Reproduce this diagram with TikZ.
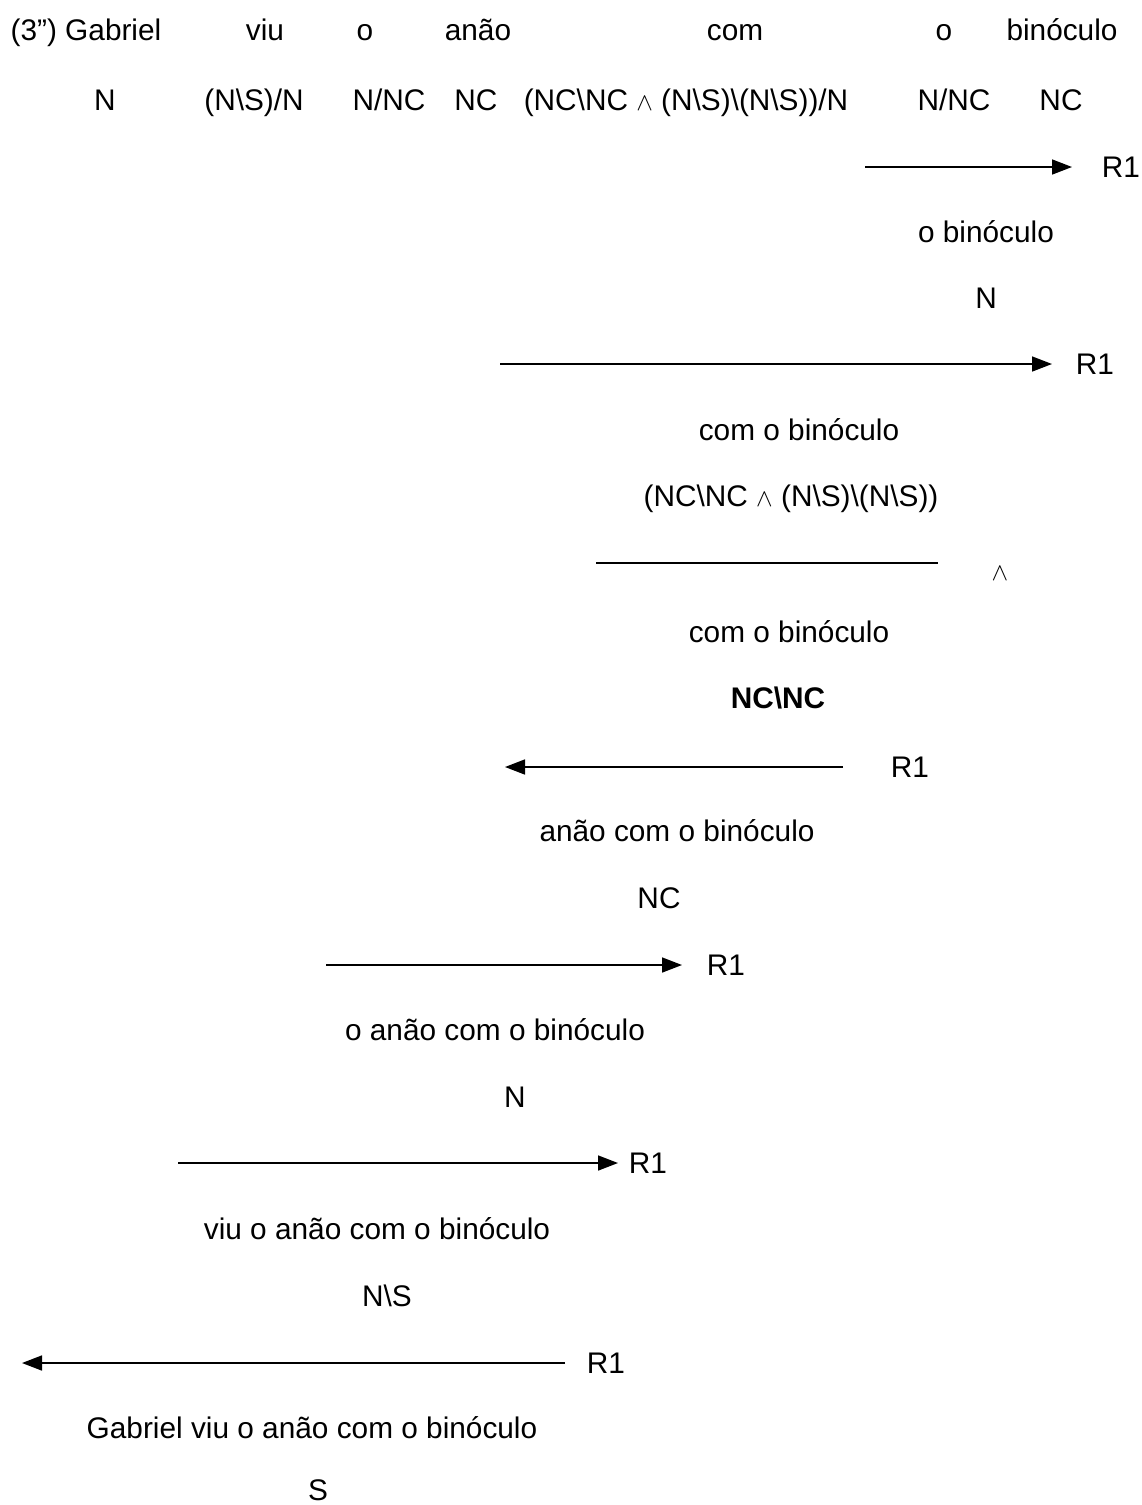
\documentclass[tikz,border=0pt]{standalone}
\usepackage{fontspec}
\setmainfont{Liberation Sans}
\usetikzlibrary{arrows.meta}
\newcommand\wsym{{\fontsize{24}{24}\selectfont$\wedge$}}
\begin{document}
\begin{tikzpicture}[x=1pt,y=-1pt,
  txt/.style={anchor=base,inner sep=0pt,font=\fontsize{29.8}{34}\selectfont},
  rule/.style={line width=1.6pt},
  rarrow/.style={rule,-{Triangle[length=20pt,width=15pt]}},
  rlabel/.style={txt}]
\useasboundingbox (0,0) rectangle (1142,1505);
% sentence and lexical categories
\node[txt] (w1) at (86,40) {(3'') Gabriel};
\node[txt] (w2) at (265,40) {viu};
\node[txt] (w3) at (365,40) {o};
\node[txt] (w4) at (478,40) {anão};
\node[txt] (w5) at (735,40) {com};
\node[txt] (w6) at (944,40) {o};
\node[txt] (w7) at (1062,40) {binóculo};
\node[txt] (c1) at (105,110) {N};
\node[txt] (c2) at (254,110) {(N\textbackslash S)/N};
\node[txt] (c3) at (389,110) {N/NC};
\node[txt] (c4) at (476,110) {NC};
\node[txt] (c5) at (686,110) {(NC\textbackslash NC \wsym{} (N\textbackslash S)\textbackslash(N\textbackslash S))/N};
\node[txt] (c6) at (954,110) {N/NC};
\node[txt] (c7) at (1061,110) {NC};
% step 1
\coordinate (a1s) at (865,167); \coordinate (a1e) at (1072,167);
\draw[rarrow] (a1s) -- (a1e);
\node[rlabel] (r1) at (1121,177) {R1};
\node[txt] (p1) at (986,242) {o binóculo};
\node[txt] (k1) at (986,308) {N};
% step 2
\coordinate (a2s) at (500,364); \coordinate (a2e) at (1052,364);
\draw[rarrow] (a2s) -- (a2e);
\node[rlabel] (r2) at (1095,374) {R1};
\node[txt] (p2) at (799,440) {com o binóculo};
\node[txt] (k2) at (791,506) {(NC\textbackslash NC \wsym{} (N\textbackslash S)\textbackslash(N\textbackslash S))};
% step 3: conjunction elimination
\coordinate (a3s) at (596,563); \coordinate (a3e) at (938,563);
\draw[rule] (a3s) -- (a3e);
\node[txt] (r3) at (1000,580) {\wsym};
\node[txt] (p3) at (789,642) {com o binóculo};
\node[txt,font=\fontsize{29.8}{34}\selectfont\bfseries] (k3) at (778,708) {NC\textbackslash NC};
% step 4
\coordinate (a4s) at (843,767); \coordinate (a4e) at (505,767);
\draw[rarrow] (a4s) -- (a4e);
\node[rlabel] (r4) at (910,777) {R1};
\node[txt] (p4) at (677,841) {anão com o binóculo};
\node[txt] (k4) at (659,908) {NC};
% step 5
\coordinate (a5s) at (326,965); \coordinate (a5e) at (682,965);
\draw[rarrow] (a5s) -- (a5e);
\node[rlabel] (r5) at (726,975) {R1};
\node[txt] (p5) at (495,1040) {o anão com o binóculo};
\node[txt] (k5) at (515,1107) {N};
% step 6
\coordinate (a6s) at (178,1163); \coordinate (a6e) at (618,1163);
\draw[rarrow] (a6s) -- (a6e);
\node[rlabel] (r6) at (648,1173) {R1};
\node[txt] (p6) at (377,1239) {viu o anão com o binóculo};
\node[txt] (k6) at (387,1306) {N\textbackslash S};
% step 7
\coordinate (a7s) at (565,1363); \coordinate (a7e) at (22,1363);
\draw[rarrow] (a7s) -- (a7e);
\node[rlabel] (r7) at (606,1373) {R1};
\node[txt] (p7) at (312,1438) {Gabriel viu o anão com o binóculo};
\node[txt] (k7) at (318,1500) {S};
\end{tikzpicture}
\end{document}
